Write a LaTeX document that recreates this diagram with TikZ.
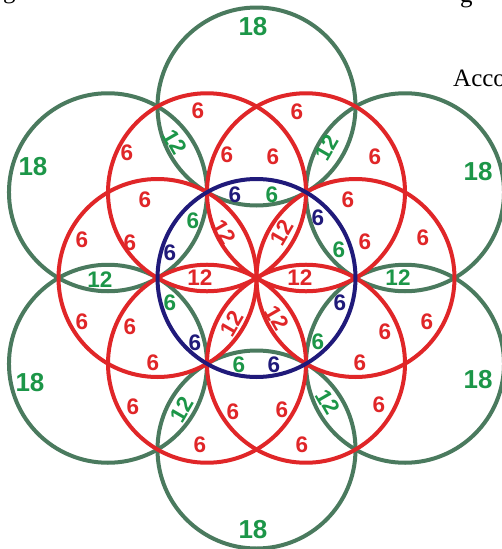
\documentclass[tikz,border=0pt]{standalone}
\usepackage{fontspec}
\setmainfont{Liberation Sans}
\newfontfamily\accfont{Liberation Serif}
\usetikzlibrary{calc}
\definecolor{ringgreen}{RGB}{74,122,94}
\definecolor{textgreen}{RGB}{28,150,72}
\definecolor{ringred}{RGB}{224,38,40}
\definecolor{ringnavy}{RGB}{32,26,122}
\tikzset{
  greenring/.style={draw=ringgreen,line width=4pt},
  redring/.style={draw=ringred,line width=4pt},
  navyring/.style={draw=ringnavy,line width=4pt},
  lab/.style={inner sep=0pt,font=\fontsize{22.5}{22.5}\selectfont\bfseries},
  bigl/.style={inner sep=0pt,font=\fontsize{26}{26}\selectfont\bfseries,text=textgreen},
  rl/.style={lab,text=ringred},
  gl/.style={lab,text=textgreen},
  nl/.style={lab,text=ringnavy}
}
\begin{document}
\begin{tikzpicture}[x=1pt,y=-1pt]
\useasboundingbox (0,0) rectangle (502,549);
\clip (0,0) rectangle (502,549);
\fill[white] (0,0) rectangle (502,549);
\coordinate (C) at (256.5,278);
% green circles
\foreach \a in {30,90,...,330}
  \draw[greenring] ($(C)+(\a:171.5)$) circle (99);
% red circles
\foreach \a in {0,60,...,300}
  \draw[redring] ($(C)+(\a:99)$) circle (99);
% blue circle
\draw[navyring] (C) circle (99);
% big labels
\node[bigl] (b1) at (253,27) {18};
\node[bigl] (b2) at (33,167) {18};
\node[bigl] (b3) at (478,172) {18};
\node[bigl] (b4) at (30,383) {18};
\node[bigl] (b5) at (478,380) {18};
\node[bigl] (b6) at (253,530) {18};
% red 6
\node[rl] (r1) at (198,111) {6};
\node[rl] (r2) at (297,112) {6};
\node[rl] (r3) at (127,153) {6};
\node[rl] (r4) at (227,155) {6};
\node[rl] (r5) at (273,157) {6};
\node[rl] (r6) at (375,157) {6};
\node[rl] (r7) at (145,200) {6};
\node[rl] (r8) at (348,200) {6};
\node[rl] (r9) at (130,243) {6};
\node[rl] (r10) at (365,242) {6};
\node[rl] (r11) at (82,240) {6};
\node[rl] (r12) at (423,238) {6};
\node[rl] (r13) at (130,327) {6};
\node[rl] (r14) at (385,332) {6};
\node[rl] (r15) at (82,322) {6};
\node[rl] (r16) at (427,322) {6};
\node[rl] (r17) at (153,363) {6};
\node[rl] (r18) at (360,363) {6};
\node[rl] (r19) at (133,407) {6};
\node[rl] (r20) at (233,412) {6};
\node[rl] (r21) at (282,410) {6};
\node[rl] (r22) at (379,405) {6};
\node[rl] (r23) at (200,445) {6};
\node[rl] (r24) at (302,445) {6};
% red 12
\node[rl] (t1) at (200,278) {12};
\node[rl] (t2) at (300,278) {12};
\node[rl,rotate=-60] (t3) at (224,232) {12};
\node[rl,rotate=60] (t4) at (282,233) {12};
\node[rl,rotate=60] (t5) at (232,324) {12};
\node[rl,rotate=-60] (t6) at (277,318) {12};
% green 12
\node[gl] (g1) at (100,280) {12};
\node[gl] (g2) at (398,278) {12};
\node[gl,rotate=-60] (g3) at (175,142) {12};
\node[gl,rotate=60] (g4) at (327,148) {12};
\node[gl,rotate=60] (g5) at (182,410) {12};
\node[gl,rotate=-60] (g6) at (328,402) {12};
% green 6
\node[gl] (h1) at (193,221) {6};
\node[gl] (h2) at (272,195) {6};
\node[gl] (h3) at (339,250) {6};
\node[gl] (h4) at (170,303) {6};
\node[gl] (h5) at (318,342) {6};
\node[gl] (h6) at (239,365) {6};
% navy 6
\node[nl] (n1) at (235,195) {6};
\node[nl] (n2) at (318,218) {6};
\node[nl] (n3) at (170,253) {6};
\node[nl] (n4) at (340,303) {6};
\node[nl] (n5) at (195,343) {6};
\node[nl] (n6) at (274,365) {6};
% cut-off text
\node[anchor=base west,inner sep=0pt,font=\accfont\fontsize{25}{25}\selectfont] (acc) at (453,86) {Acco};
\node[anchor=base west,inner sep=0pt,font=\accfont\fontsize{25}{25}\selectfont] (gl1) at (3,-2) {g};
\node[anchor=base west,inner sep=0pt,font=\accfont\fontsize{25}{25}\selectfont] (gl2) at (460,2) {g};
\end{tikzpicture}
\end{document}
